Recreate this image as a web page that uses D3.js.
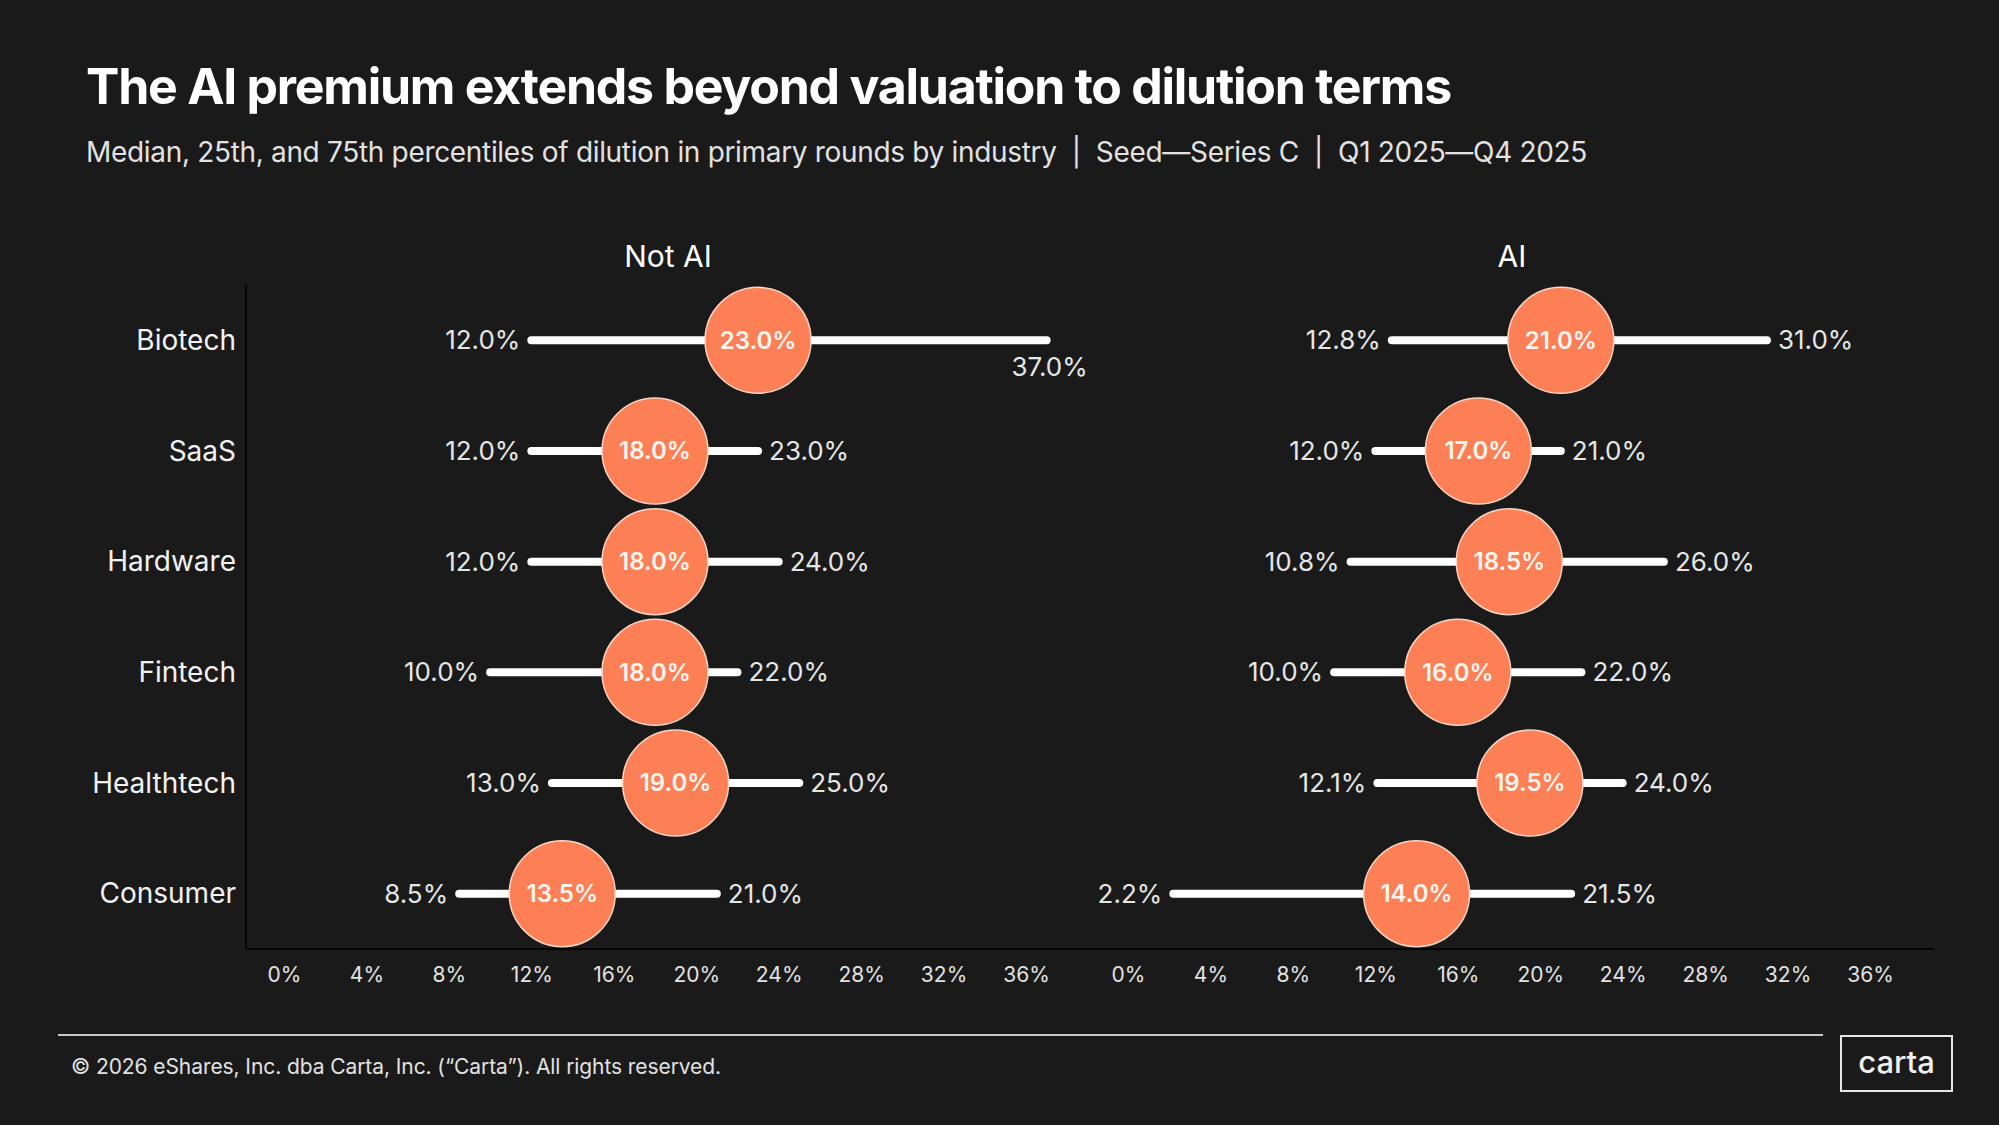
<!DOCTYPE html>
<html><head><meta charset="utf-8">
<script src="https://cdn.jsdelivr.net/npm/d3@7"></script>
<style>
html,body{margin:0;padding:0;background:#1a1a1a;}
svg{display:block;font-family:Inter,"Noto Sans",sans-serif;}
</style>
</head><body>
<svg id="c" width="1999" height="1125"></svg>
<script>
const categories = ["Biotech","SaaS","Hardware","Fintech","Healthtech","Consumer"];
const panels = ["Not AI","AI"];
const notAiP25    = [12.0, 12.0, 12.0, 10.0, 13.0, 8.5];
const notAiMedian = [23.0, 18.0, 18.0, 18.0, 19.0, 13.5];
const notAiP75    = [37.0, 23.0, 24.0, 22.0, 25.0, 21.0];
const aiP25       = [12.8, 12.0, 10.8, 10.0, 12.1, 2.2];
const aiMedian    = [21.0, 17.0, 18.5, 16.0, 19.5, 14.0];
const aiP75       = [31.0, 21.0, 26.0, 22.0, 24.0, 21.5];
const tickValues  = [0,4,8,12,16,20,24,28,32,36];
const titleText = "The AI premium extends beyond valuation to dilution terms";
const subtitleText = "Median, 25th, and 75th percentiles of dilution in primary rounds by industry  |  Seed\u2014Series C  |  Q1 2025\u2014Q4 2025";
const footerText = "\u00A9 2026 eShares, Inc. dba Carta, Inc. (\u201CCarta\u201D). All rights reserved.";

const seriesByPanel = {
  "Not AI": {p25: notAiP25, med: notAiMedian, p75: notAiP75},
  "AI": {p25: aiP25, med: aiMedian, p75: aiP75}
};

const W = 1999, H = 1125;
const svg = d3.select("#c");
svg.append("rect").attr("width", W).attr("height", H).attr("fill", "#1a1a1a");

function fit(sel, w) {
  const n = sel.text().length;
  const cur = sel.node().getComputedTextLength();
  sel.attr("letter-spacing", ((w - cur) / n).toFixed(3));
}

// Title + subtitle
const title = svg.append("text").attr("x", 86).attr("y", 104)
  .attr("fill", "#ffffff").attr("font-size", 50).attr("font-weight", 700)
  .text(titleText);
fit(title, 1365);
const sub = svg.append("text").attr("x", 86).attr("y", 162)
  .attr("fill", "#e2e2e2").attr("font-size", 28).attr("font-weight", 400)
  .attr("xml:space", "preserve").style("white-space", "pre")
  .text(subtitleText);
fit(sub, 1501);

// Layout scales
const plotLeft = 246, plotRight = 1934, plotTop = 285, plotBottom = 949;
const panelX = d3.scaleBand().domain(panels).range([plotLeft, plotRight]);
const x = d3.scaleLinear().domain([0, 36]).range([38, 780]);
const y = d3.scaleBand().domain(categories).range([plotTop, plotBottom]);

// Category labels
svg.append("g").selectAll("text").data(categories).join("text")
  .attr("x", 236).attr("y", d => y(d) + y.bandwidth() / 2)
  .attr("dy", "0.35em").attr("text-anchor", "end")
  .attr("fill", "#f2f2f2").attr("font-size", 28)
  .text(d => d);

panels.forEach(p => {
  const g = svg.append("g").attr("transform", `translate(${panelX(p)},0)`);
  const s = seriesByPanel[p];

  // panel title
  g.append("text").attr("x", panelX.bandwidth() / 2).attr("y", 267)
    .attr("text-anchor", "middle").attr("fill", "#ffffff")
    .attr("font-size", 30).text(p);

  // x axis
  const ax = g.append("g").attr("transform", `translate(0,${plotBottom})`)
    .call(d3.axisBottom(x).tickValues(tickValues).tickFormat(d => d + "%").tickSize(0).tickPadding(18));
  ax.select(".domain").remove();
  ax.selectAll("text").attr("fill", "#e2e2e2").attr("font-size", 21)
    .attr("font-family", "Inter, 'Noto Sans', sans-serif");

  const rows = categories.map((c, i) => ({c, p25: s.p25[i], med: s.med[i], p75: s.p75[i]}));

  // range lines
  g.append("g").selectAll("line").data(rows).join("line")
    .attr("x1", d => x(d.p25)).attr("x2", d => x(d.p75))
    .attr("y1", d => y(d.c) + y.bandwidth() / 2).attr("y2", d => y(d.c) + y.bandwidth() / 2)
    .attr("stroke", "#ffffff").attr("stroke-width", 8).attr("stroke-linecap", "round");

  // circles
  g.append("g").selectAll("circle").data(rows).join("circle")
    .attr("cx", d => x(d.med)).attr("cy", d => y(d.c) + y.bandwidth() / 2)
    .attr("r", 53).attr("fill", "#fd7f55")
    .attr("stroke", "#f7d4c4").attr("stroke-width", 1.5);

  // median labels
  g.append("g").selectAll("text").data(rows).join("text")
    .attr("x", d => x(d.med)).attr("y", d => y(d.c) + y.bandwidth() / 2)
    .attr("dy", "0.35em").attr("text-anchor", "middle")
    .attr("fill", "#fff6f0").attr("font-size", 24).attr("font-weight", 600)
    .text(d => d.med.toFixed(1) + "%");

  // p25 labels
  g.append("g").selectAll("text").data(rows).join("text")
    .attr("x", d => x(d.p25) - 11).attr("y", d => y(d.c) + y.bandwidth() / 2)
    .attr("dy", "0.35em").attr("text-anchor", "end")
    .attr("fill", "#e6e6e6").attr("font-size", 26)
    .text(d => d.p25.toFixed(1) + "%");

  // p75 labels (below the end if beyond axis max)
  const maxTick = d3.max(tickValues);
  g.append("g").selectAll("text").data(rows).join("text")
    .attr("x", d => d.p75 > maxTick ? x(d.p75) + 3 : x(d.p75) + 11)
    .attr("y", d => y(d.c) + y.bandwidth() / 2 + (d.p75 > maxTick ? 27 : 0))
    .attr("dy", "0.35em").attr("text-anchor", d => d.p75 > maxTick ? "middle" : "start")
    .attr("fill", "#e6e6e6").attr("font-size", 26)
    .text(d => d.p75.toFixed(1) + "%");
});

// axis lines
svg.append("line").attr("x1", plotLeft).attr("x2", plotLeft).attr("y1", plotTop).attr("y2", plotBottom)
  .attr("stroke", "#050505").attr("stroke-width", 2);
svg.append("line").attr("x1", plotLeft).attr("x2", plotRight).attr("y1", plotBottom).attr("y2", plotBottom)
  .attr("stroke", "#050505").attr("stroke-width", 2);

// footer
svg.append("line").attr("x1", 58).attr("x2", 1823).attr("y1", 1035).attr("y2", 1035)
  .attr("stroke", "#c8c8c8").attr("stroke-width", 2);
const foot = svg.append("text").attr("x", 71).attr("y", 1074)
  .attr("fill", "#e2e2e2").attr("font-size", 21).text(footerText);
fit(foot, 650);

svg.append("rect").attr("x", 1841).attr("y", 1036).attr("width", 111).attr("height", 55)
  .attr("fill", "none").attr("stroke", "#e6e6e6").attr("stroke-width", 2);
svg.append("text").attr("x", 1896.5).attr("y", 1073).attr("text-anchor", "middle")
  .attr("fill", "#f0f0f0").attr("font-size", 31).attr("font-weight", 500)
  .text("carta");
</script>
</body></html>
